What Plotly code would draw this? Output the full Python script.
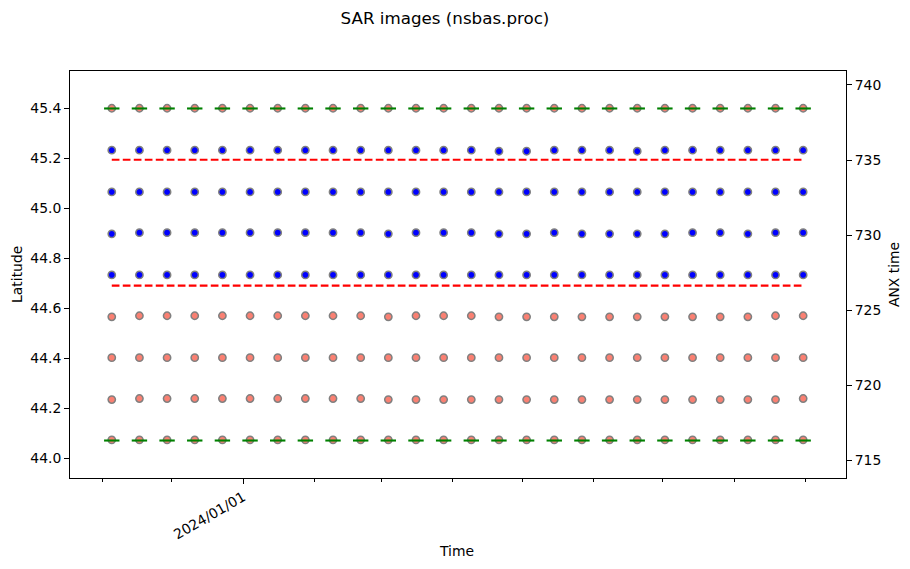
import plotly.graph_objects as go

# acquisition dates (12-day revisit)
dates = ["2023-11-05", "2023-11-17", "2023-11-29", "2023-12-11", "2023-12-23",
         "2024-01-04", "2024-01-16", "2024-01-28", "2024-02-09", "2024-02-21",
         "2024-03-04", "2024-03-16", "2024-03-28", "2024-04-09", "2024-04-21",
         "2024-05-03", "2024-05-15", "2024-05-27", "2024-06-08", "2024-06-20",
         "2024-07-02", "2024-07-14", "2024-07-26", "2024-08-07", "2024-08-19",
         "2024-08-31"]

# burst ANX times (s), one list per burst, top to bottom
anx_b0 = [738.45] * 26
anx_b1 = [735.66, 735.66, 735.66, 735.66, 735.66, 735.66, 735.66, 735.66, 735.66, 735.66,
          735.66, 735.66, 735.66, 735.66, 735.59, 735.59, 735.66, 735.66, 735.66, 735.59,
          735.66, 735.66, 735.66, 735.66, 735.66, 735.66]
anx_b2 = [732.88] * 26
anx_b3 = [730.09, 730.17, 730.17, 730.17, 730.17, 730.17, 730.17, 730.17, 730.17, 730.17,
          730.09, 730.17, 730.17, 730.17, 730.09, 730.09, 730.17, 730.09, 730.09, 730.09,
          730.09, 730.17, 730.17, 730.09, 730.17, 730.17]
anx_b4 = [727.36] * 26
anx_b5 = [724.57, 724.64, 724.64, 724.64, 724.64, 724.64, 724.64, 724.64, 724.64, 724.64,
          724.57, 724.64, 724.64, 724.64, 724.57, 724.57, 724.57, 724.57, 724.57, 724.57,
          724.57, 724.57, 724.57, 724.57, 724.64, 724.64]
anx_b6 = [721.85] * 26
anx_b7 = [719.06, 719.13, 719.13, 719.13, 719.13, 719.13, 719.13, 719.13, 719.13, 719.13,
          719.06, 719.06, 719.06, 719.06, 719.06, 719.06, 719.06, 719.06, 719.06, 719.06,
          719.06, 719.06, 719.06, 719.06, 719.06, 719.13]
anx_b8 = [716.38] * 26

selected_bursts = [anx_b1, anx_b2, anx_b3, anx_b4]
other_bursts = [anx_b0, anx_b5, anx_b6, anx_b7, anx_b8]

# latitude: frame extent (green) and area of interest (red)
frame_lat_top = 45.40
frame_lat_bottom = 44.071
aoi_lat_top = 45.195
aoi_lat_bottom = 44.691

lat_ticks = [44.0, 44.2, 44.4, 44.6, 44.8, 45.0, 45.2, 45.4]
anx_ticks = [715, 720, 725, 730, 735, 740]
major_tick = "2024-01-01"
major_label = "2024/01/01"

FONT = "DejaVu Sans"
fig = go.Figure()

edge = dict(color="#808080", width=1.5)
for rows, col in [(other_bursts, "#FA8072"), (selected_bursts, "#0000FF")]:
    xs, ys = [], []
    for r in rows:
        xs += dates
        ys += r
    fig.add_trace(go.Scatter(x=xs, y=ys, yaxis="y2", mode="markers",
                             marker=dict(symbol="circle", size=7.3, color=col, line=edge)))

for lat in [aoi_lat_top, aoi_lat_bottom]:
    fig.add_trace(go.Scatter(x=[dates[0], dates[-1]], y=[lat, lat], yaxis="y", mode="lines",
                             line=dict(color="#FF0000", width=2.1, dash="7.7px,3.3px")))

for lat in [frame_lat_top, frame_lat_bottom]:
    fig.add_trace(go.Scatter(x=dates, y=[lat] * len(dates), yaxis="y", mode="markers",
                             marker=dict(symbol="line-ew", size=11,
                                         line=dict(color="#008000", width=2.1))))

axis_common = dict(showline=True, linecolor="black", linewidth=1.1, ticks="outside",
                   ticklen=4.9, tickwidth=1.1, tickcolor="black", showgrid=False,
                   zeroline=False, tickfont=dict(family=FONT, size=13.9, color="black"))

lab = dict(xref="paper", yref="paper", showarrow=False, xanchor="center", yanchor="middle",
           font=dict(family=FONT, size=13.9, color="black"))

fig.update_layout(
    width=910, height=569,
    margin=dict(l=70, r=64, t=71, b=91),
    paper_bgcolor="white", plot_bgcolor="white",
    showlegend=False, hovermode=False,
    font=dict(family=FONT, size=13.9, color="black"),
    title=dict(text="SAR images (nsbas.proc)", xref="container", x=445 / 910,
               y=1 - 18 / 569, xanchor="center", yanchor="middle",
               font=dict(family=FONT, size=16.7, color="black")),
    xaxis=dict(type="date", range=["2023-10-17 21:00", "2024-09-18 14:00"],
               tickmode="array", tickvals=[major_tick], ticktext=[major_label],
               tickangle=-30, mirror=True,
               minor=dict(ticks="outside", dtick="M1", tick0="2023-11-01",
                          ticklen=2.8, tickwidth=0.8, tickcolor="black", showgrid=False),
               **axis_common),
    yaxis=dict(range=[43.921, 45.55], tickvals=lat_ticks, tickformat=".1f",
               side="left", overlaying="y2", **axis_common),
    yaxis2=dict(range=[713.84, 740.93], tickvals=anx_ticks, side="right",
                anchor="x", **axis_common),
    annotations=[
        dict(text="Latitude", x=(17 - 70.5) / 775, y=0.5, textangle=-90, **lab),
        dict(text="ANX time", x=(893 - 70.5) / 775, y=0.5, textangle=-90, **lab),
        dict(text="Time", x=(457 - 70.5) / 775, y=(477.7 - 551) / 407.2, **lab),
    ],
)

fig.write_html("out.html", config={"displayModeBar": False},
               post_script="document.body.style.margin='0';")
